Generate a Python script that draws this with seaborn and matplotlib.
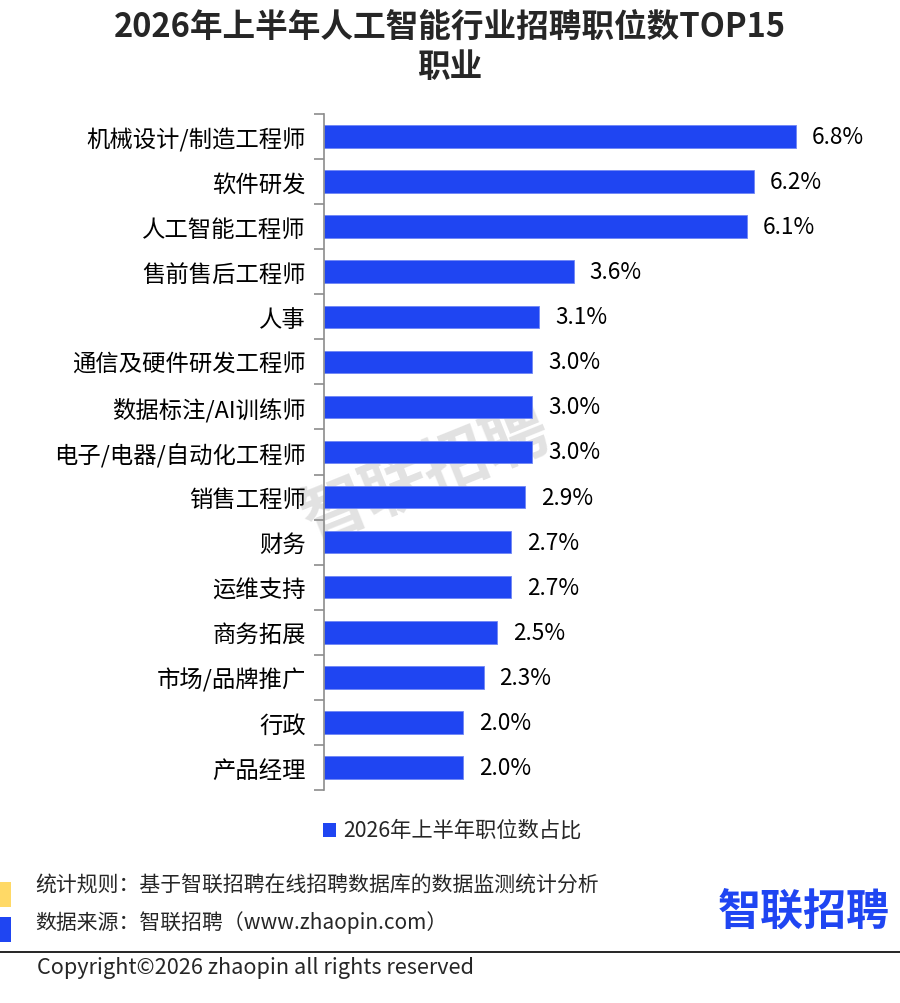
import pandas as pd
import numpy as np
import matplotlib
matplotlib.use("Agg")
import matplotlib.pyplot as plt
import seaborn as sns
from matplotlib.patches import Rectangle
from matplotlib.lines import Line2D

# data
jobs = ["机械设计/制造工程师", "软件研发", "人工智能工程师", "售前售后工程师", "人事",
        "通信及硬件研发工程师", "数据标注/AI训练师", "电子/电器/自动化工程师", "销售工程师",
        "财务", "运维支持", "商务拓展", "市场/品牌推广", "行政", "产品经理"]
share = [6.8, 6.2, 6.1, 3.6, 3.1, 3.0, 3.0, 3.0, 2.9, 2.7, 2.7, 2.5, 2.3, 2.0, 2.0]
series_name = "2026年上半年职位数占比"

df = pd.DataFrame({"job": jobs, "share": share})

sns.set_style("white")
plt.rcParams['font.family'] = ['Noto Sans CJK SC', 'DejaVu Sans']

BLUE = "#1f45f2"
W, H = 900, 1004
fig = plt.figure(figsize=(9, 10.04), dpi=100)

# axes placed in pixel terms
left, right, top, bottom = 324, 879, 115, 791
ax = fig.add_axes([left / W, 1 - bottom / H, (right - left) / W, (bottom - top) / H])
ax.set_zorder(1)
ax.patch.set_alpha(0)

sns.barplot(data=df, x="share", y="job", color=BLUE, width=0.5, ax=ax,
            edgecolor="#6f86f5", linewidth=0.6, saturation=1)
ax.set_xlim(0, 8.0)
ax.set_ylim(len(jobs) - 0.5, -0.5)
ax.set_xlabel("")
ax.set_ylabel("")
ax.set_xticks([])
for s in ["top", "right", "bottom"]:
    ax.spines[s].set_visible(False)
ax.spines["left"].set_color("#8c8c8c")
ax.spines["left"].set_linewidth(1.2)

# category labels without tick marks, boundary ticks as minor ticks
ax.tick_params(axis="y", which="major", left=True, length=0, pad=13, labelsize=16.8,
               labelcolor="black")
ax.set_yticks(np.arange(-0.5, len(jobs) + 0.5, 1), minor=True)
ax.tick_params(axis="y", which="minor", left=True, length=7, width=1.2, color="#8c8c8c",
               direction="out")

for i, v in enumerate(share):
    ax.text(v + 0.23, i, f"{v:.1f}%", va="center", ha="left", fontsize=16.3, color="black")

# watermark
fig.text(425 / W, 1 - 475 / H, "智联招聘", rotation=22, fontsize=47, fontweight="bold",
         color="#e2e2e2", ha="center", va="center", zorder=0.5)

# title
fig.text(0.5, 1 - 28 / H, "2026年上半年人工智能行业招聘职位数TOP15", ha="center", va="center",
         fontsize=23.5, fontweight="bold")
fig.text(0.5, 1 - 68 / H, "职业", ha="center", va="center", fontsize=23.5, fontweight="bold")

# legend
fig.patches.append(Rectangle((323 / W, 1 - 838 / H), 13 / W, 14 / H, transform=fig.transFigure,
                             facecolor=BLUE, edgecolor="none"))
fig.text(343 / W, 1 - 831 / H, series_name, ha="left", va="center", fontsize=15.3)

# footer
fig.patches.append(Rectangle((0, 1 - 908 / H), 11 / W, 25 / H, transform=fig.transFigure,
                             facecolor="#ffd966", edgecolor="none"))
fig.patches.append(Rectangle((0, 1 - 943 / H), 11 / W, 25 / H, transform=fig.transFigure,
                             facecolor=BLUE, edgecolor="none"))
fig.text(35 / W, 1 - 886 / H, "统计规则：基于智联招聘在线招聘数据库的数据监测统计分析",
         ha="left", va="center", fontsize=15)
fig.text(35 / W, 1 - 923 / H, "数据来源：智联招聘（www.zhaopin.com）",
         ha="left", va="center", fontsize=15)
fig.text(890 / W, 1 - 913 / H, "智联招聘", ha="right", va="center", fontsize=31,
         fontweight="bold", color="#1f45f2")
fig.lines.append(Line2D([0, 1], [1 - 953 / H, 1 - 953 / H], transform=fig.transFigure,
                        color="black", linewidth=1.2))
fig.text(37 / W, 1 - 968 / H, "Copyright©2026 zhaopin all rights reserved",
         ha="left", va="center", fontsize=15.6)

fig.savefig("out.png", dpi=100, facecolor="white")
